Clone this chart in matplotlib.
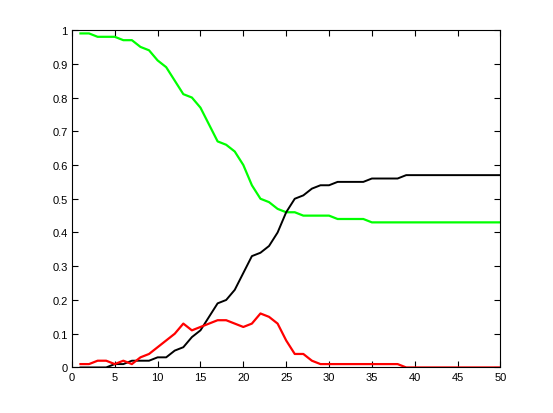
import matplotlib
matplotlib.use("Agg")
import matplotlib.pyplot as plt

# x positions 1..50
steps = list(range(1, 51))

green = [0.99, 0.99, 0.98, 0.98, 0.98, 0.97, 0.97, 0.95, 0.94, 0.91,
         0.89, 0.85, 0.81, 0.80, 0.77, 0.72, 0.67, 0.66, 0.64, 0.60,
         0.54, 0.50, 0.49, 0.47, 0.46, 0.46, 0.45, 0.45, 0.45, 0.45,
         0.44, 0.44, 0.44, 0.44, 0.43, 0.43, 0.43, 0.43, 0.43, 0.43,
         0.43, 0.43, 0.43, 0.43, 0.43, 0.43, 0.43, 0.43, 0.43, 0.43]

black = [0.00, 0.00, 0.00, 0.00, 0.01, 0.01, 0.02, 0.02, 0.02, 0.03,
         0.03, 0.05, 0.06, 0.09, 0.11, 0.15, 0.19, 0.20, 0.23, 0.28,
         0.33, 0.34, 0.36, 0.40, 0.46, 0.50, 0.51, 0.53, 0.54, 0.54,
         0.55, 0.55, 0.55, 0.55, 0.56, 0.56, 0.56, 0.56, 0.57, 0.57,
         0.57, 0.57, 0.57, 0.57, 0.57, 0.57, 0.57, 0.57, 0.57, 0.57]

red = [0.01, 0.01, 0.02, 0.02, 0.01, 0.02, 0.01, 0.03, 0.04, 0.06,
       0.08, 0.10, 0.13, 0.11, 0.12, 0.13, 0.14, 0.14, 0.13, 0.12,
       0.13, 0.16, 0.15, 0.13, 0.08, 0.04, 0.04, 0.02, 0.01, 0.01,
       0.01, 0.01, 0.01, 0.01, 0.01, 0.01, 0.01, 0.01, 0.00, 0.00,
       0.00, 0.00, 0.00, 0.00, 0.00, 0.00, 0.00, 0.00, 0.00, 0.00]

xticks = list(range(0, 51, 5))
yticks = [i / 10 for i in range(11)]
ytick_labels = ["0", "0.1", "0.2", "0.3", "0.4", "0.5", "0.6", "0.7", "0.8", "0.9", "1"]

plt.rcParams["font.family"] = ["Liberation Sans", "DejaVu Sans"]

fig = plt.figure(figsize=(5.53, 4.14), dpi=100)
ax = fig.add_axes([0.13, 0.11, 0.775, 0.815])

ax.plot(steps, green, color=(0, 1, 0), linewidth=1.6)
ax.plot(steps, black, color="black", linewidth=1.4)
ax.plot(steps, red, color=(1, 0, 0), linewidth=1.6)

ax.set_xlim(0, 50)
ax.set_ylim(0, 1)
ax.set_xticks(xticks)
ax.set_xticklabels([str(t) for t in xticks])
ax.set_yticks(yticks)
ax.set_yticklabels(ytick_labels)
ax.tick_params(direction="in", top=True, right=True, length=4, width=0.8,
               labelsize=8, pad=3)
for s in ax.spines.values():
    s.set_linewidth(0.8)

fig.savefig("out.png", dpi=100)
